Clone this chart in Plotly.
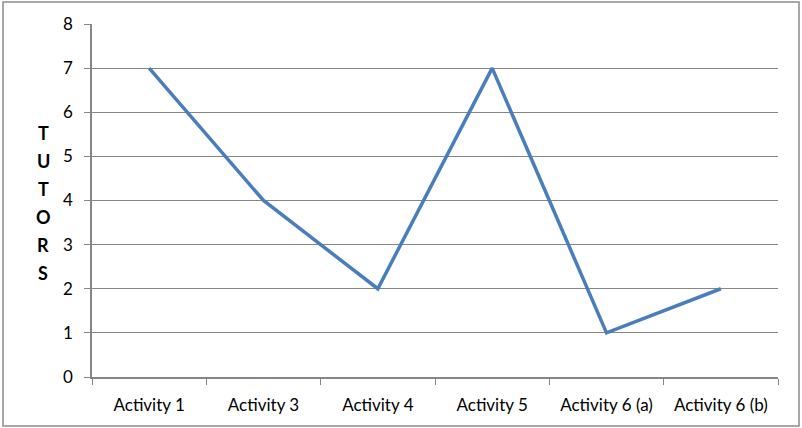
import plotly.graph_objects as go

categories = ["Activity 1", "Activity 3", "Activity 4", "Activity 5", "Activity 6 (a)", "Activity 6 (b)"]
tutors = [7, 4, 2, 7, 1, 2]
y_title = "TUTORS"

W, H = 802, 428
L, R, T, B = 92, 24, 24, 51
pw, ph = W - L - R, H - T - B

fig = go.Figure()
fig.add_trace(go.Scatter(
    x=categories, y=tutors, mode="lines",
    line=dict(color="#4A7EBB", width=3.5),
    hoverinfo="x+y", showlegend=False,
))

grey = "#868686"
fig.update_layout(
    width=W, height=H,
    margin=dict(l=L, r=R, t=T, b=B),
    paper_bgcolor="white", plot_bgcolor="white",
    font=dict(family="Lato, Open Sans, sans-serif", size=17, color="black"),
    xaxis=dict(
        type="category", range=[-0.5, 5.5], tickson="boundaries",
        ticks="outside", ticklen=6, tickcolor=grey, tickwidth=1,
        showline=True, linecolor=grey, linewidth=1.5,
        showgrid=False, tickfont=dict(size=17), ticklabelstandoff=12,
    ),
    yaxis=dict(
        range=[0, 8], dtick=1, ticks="outside", ticklen=6, tickcolor=grey,
        showline=True, linecolor=grey, linewidth=1.5,
        showgrid=True, gridcolor=grey, gridwidth=1.2, zeroline=False,
        tickfont=dict(size=17), ticklabelstandoff=8,
    ),
)

# outer chart border
fig.add_shape(type="rect", xref="paper", yref="paper",
              x0=(3 - L) / pw, x1=(799 - L) / pw,
              y0=(H - B - 426) / ph, y1=(H - B - 2) / ph,
              line=dict(color="#8c8c8c", width=1.5), fillcolor="rgba(0,0,0,0)", layer="below")

# stacked vertical axis title
centers = [133, 161, 189, 217, 245, 273]
for ch, yc in zip(y_title, centers):
    fig.add_annotation(text="<b>%s</b>" % ch, xref="paper", yref="paper",
                       x=(43 - L) / pw, y=(H - B - yc) / ph,
                       showarrow=False, xanchor="center", yanchor="middle",
                       font=dict(size=18, color="black"))

fig.write_html("out.html")
